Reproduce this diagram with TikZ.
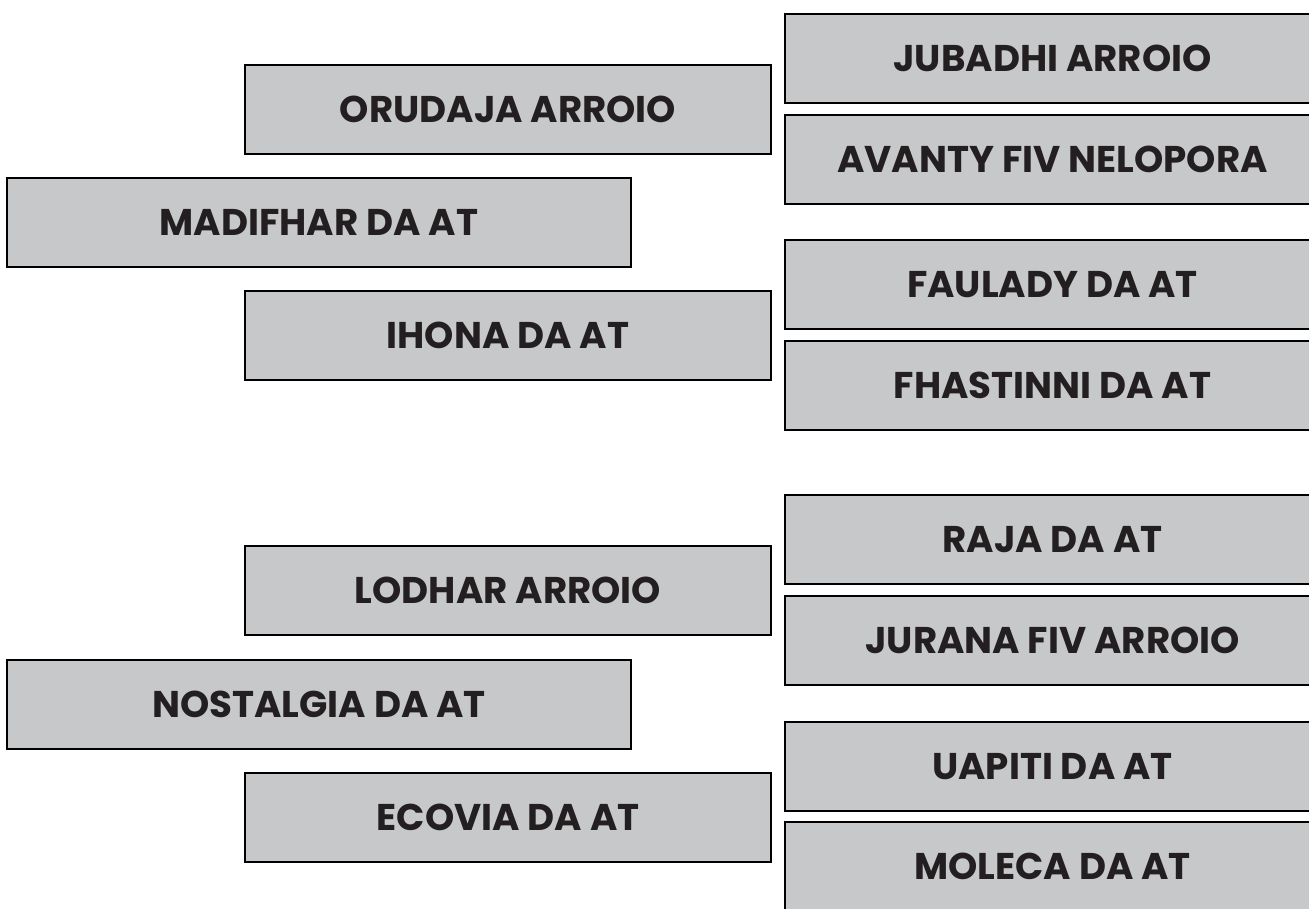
\documentclass[tikz,border=0pt]{standalone}
\usepackage{fontspec}
\setmainfont{Poppins}
\definecolor{boxgray}{HTML}{C7C8CA}
\definecolor{inkdark}{HTML}{231F20}
\tikzstyle{plate}=[draw=black,fill=boxgray,line width=2pt,shape=rectangle,inner sep=0pt,minimum height=89pt,text=inkdark,font=\fontsize{37.2}{40}\selectfont\bfseries]
\tikzstyle{mid}=[plate,minimum width=526pt]
\tikzstyle{wide}=[plate,minimum width=624pt]
\tikzstyle{side}=[plate,minimum width=535pt]

\begin{document}
\begin{tikzpicture}[x=1pt,y=-1pt]
\useasboundingbox (0,0) rectangle (1309,909);
\clip (0,0) rectangle (1309,909);
% upper group
\node[mid]  at ( 508,109.5) (orudaja)   {ORUDAJA ARROIO};
\node[wide] at ( 319,222.5) (madifhar)  {MADIFHAR DA AT};
\node[mid]  at ( 508,335.5) (ihona)     {IHONA DA AT};
\node[side] at (1052.5, 58.5) (jubadhi)   {JUBADHI ARROIO};
\node[side] at (1052.5,159.5) (avanty)    {AVANTY FIV NELOPORA};
\node[side] at (1052.5,284.5) (faulady)   {FAULADY DA AT};
\node[side] at (1052.5,385.5) (fhastinni) {FHASTINNI DA AT};
% lower group
\node[mid]  at ( 508,590.5) (lodhar)    {LODHAR ARROIO};
\node[wide] at ( 319,704)   (nostalgia) {NOSTALGIA DA AT};
\node[mid]  at ( 508,817)   (ecovia)    {ECOVIA DA AT};
\node[side] at (1052.5,539.5) (raja)      {RAJA DA AT};
\node[side] at (1052.5,640.5) (jurana)    {JURANA FIV ARROIO};
\node[side] at (1052.5,766.5) (uapiti)    {UAPITI DA AT};
\node[side] at (1052.5,866.5) (moleca)    {MOLECA DA AT};
\end{tikzpicture}
\end{document}
